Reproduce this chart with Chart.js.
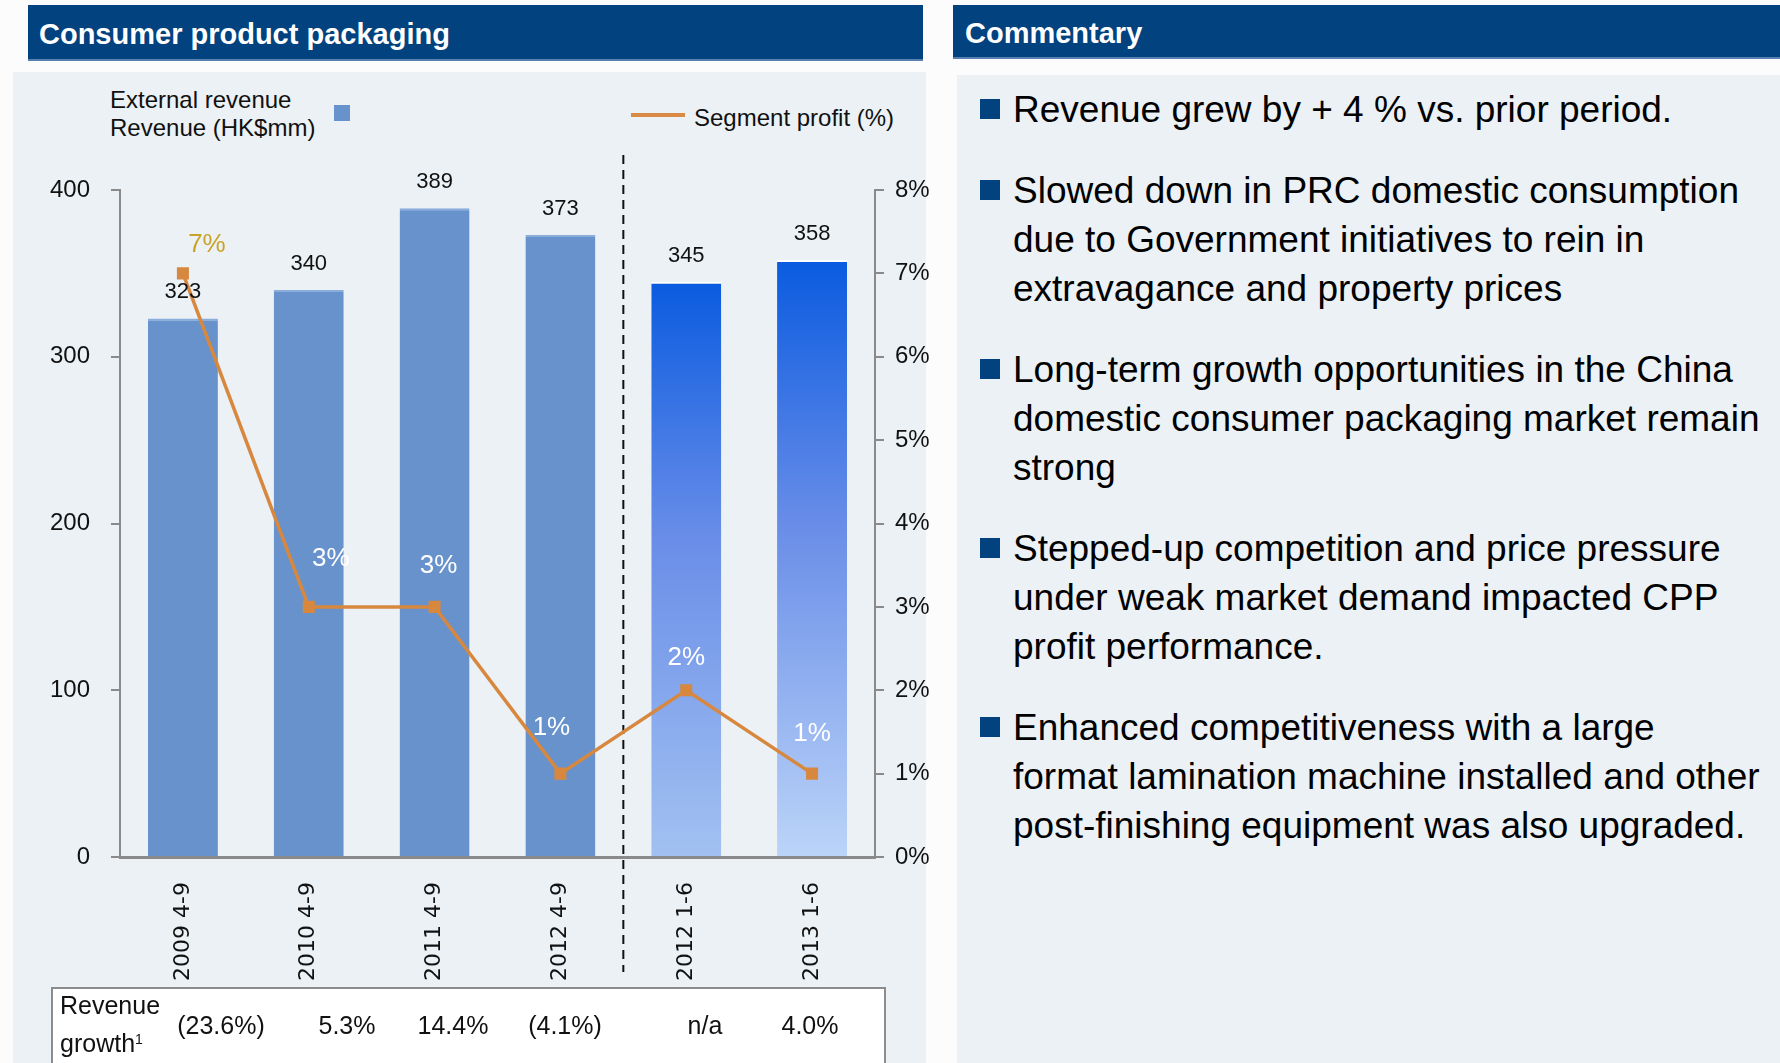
<!DOCTYPE html>
<html><head><meta charset="utf-8">
<script src="https://cdn.jsdelivr.net/npm/chart.js@4.4.0/dist/chart.umd.min.js"></script>
<style>
html,body{margin:0;padding:0;width:1780px;height:1063px;overflow:hidden;background:#fcfcfd;font-family:"Liberation Sans",Arial,sans-serif;}
.abs{position:absolute;}
.hdr{position:absolute;background:#02427f;color:#fff;font-weight:bold;font-size:29px;border-bottom:2px solid #5580b0;box-sizing:border-box;white-space:nowrap;}
.panel{position:absolute;background:#ebf1f5;}
#chartWrap{position:absolute;left:0;top:0;width:940px;height:1063px;}
.leg{position:absolute;font-size:24px;color:#111;white-space:nowrap;line-height:28px;}
.para{position:absolute;left:1013px;font-size:37px;line-height:49px;color:#000;white-space:nowrap;}
.bul{position:absolute;left:-33px;top:14px;width:20px;height:20px;background:#02427f;}
#tbl{position:absolute;left:51px;top:987px;width:835px;height:100px;border:2px solid #8c8c8c;background:#fff;box-sizing:border-box;}
.tcell{position:absolute;font-size:25px;color:#111;white-space:nowrap;transform:translate(-50%,-50%);}
</style></head>
<body>
<div class="panel" style="left:13px;top:72px;width:913px;height:991px;"></div>
<div class="panel" style="left:957px;top:75px;width:823px;height:988px;"></div>
<div class="hdr" style="left:28px;top:5px;width:895px;height:56px;line-height:58px;padding-left:11px;">Consumer product packaging</div>
<div class="hdr" style="left:953px;top:5px;width:827px;height:54px;line-height:56px;padding-left:12px;">Commentary</div>

<div class="leg" style="left:110px;top:86px;">External revenue<br>Revenue (HK$mm)</div>
<div class="abs" style="left:334px;top:105px;width:16px;height:16px;background:#6792cc;"></div>
<div class="abs" style="left:631px;top:113px;width:54px;height:4px;background:#d98b45;"></div>
<div class="leg" style="left:694px;top:104px;">Segment profit (%)</div>

<div id="chartWrap"><canvas id="c" width="940" height="1063"></canvas></div>

<div id="tbl">
  <div class="abs" style="left:7px;top:-3px;font-size:25px;line-height:38px;color:#111;">Revenue<br>growth<sup style="font-size:14px;vertical-align:top;position:relative;top:-4px;">1</sup></div>
</div>

<div id="comm"></div>

<script>
// ---- data ----
const categories = ['2009 4-9', '2010 4-9', '2011 4-9', '2012 4-9', '2012 1-6', '2013 1-6'];
const revenue = [323, 340, 389, 373, 345, 358];
const segmentProfit = [7, 3, 3, 1, 2, 1];
const revenueGrowth = ['(23.6%)', '5.3%', '14.4%', '(4.1%)', 'n/a', '4.0%'];
const commentary = [
  ['Revenue grew by + 4 % vs. prior period.'],
  ['Slowed down in PRC domestic consumption', 'due to Government initiatives to rein in', 'extravagance and property prices'],
  ['Long-term growth opportunities in the China', 'domestic consumer packaging market remain', 'strong'],
  ['Stepped-up competition and price pressure', 'under weak market demand impacted CPP', 'profit performance.'],
  ['Enhanced competitiveness with a large', 'format lamination machine installed and other', 'post-finishing equipment was also upgraded.']
];

// ---- layout / style constants ----
const growthColumnX = [168, 294, 400, 512, 652, 757];
const pctLabelDX = [24, 22, 4, -9, 0, 0];
const pctLabelDY = [-29, -48, -41, -46, -32, -40];
const gradBottom = ['#a2c1f1', '#bbd4f8'];
const axisGray = '#8a8a8a';

// table cells
const tbl = document.getElementById('tbl');
revenueGrowth.forEach((t, i) => {
  const d = document.createElement('div');
  d.className = 'tcell';
  d.style.left = growthColumnX[i] + 'px';
  d.style.top = '36px';
  d.textContent = t;
  tbl.appendChild(d);
});

// commentary
const comm = document.getElementById('comm');
let paraTop = 85;
commentary.forEach(lines => {
  const p = document.createElement('div');
  p.className = 'para';
  p.style.top = paraTop + 'px';
  const b = document.createElement('div'); b.className = 'bul'; p.appendChild(b);
  lines.forEach((l, k) => {
    if (k) p.appendChild(document.createElement('br'));
    p.appendChild(document.createTextNode(l));
  });
  comm.appendChild(p);
  paraTop += lines.length * 49 + 32;
});

function barColor(ctx) {
  const i = ctx.dataIndex;
  if (i < 4) return '#6792cc';
  const chart = ctx.chart;
  const ys = chart.scales && chart.scales.y;
  if (!chart.chartArea || !ys) return '#4d7fe4';
  const yTop = ys.getPixelForValue(ctx.raw);
  const yBot = ys.getPixelForValue(0);
  const g = chart.ctx.createLinearGradient(0, yTop, 0, yBot);
  g.addColorStop(0, '#0a5be0');
  g.addColorStop(0.45, '#6a8ee8');
  g.addColorStop(1, gradBottom[i - 4]);
  return g;
}

const overlay = {
  id: 'overlay',
  beforeDatasetsDraw(chart) {
    const c = chart.ctx, xs = chart.scales.x;
    const xd = (xs.getPixelForValue(3) + xs.getPixelForValue(4)) / 2;
    c.save();
    c.setLineDash([9, 6]);
    c.lineWidth = 2;
    c.strokeStyle = '#111';
    c.beginPath(); c.moveTo(xd, 155); c.lineTo(xd, 972); c.stroke();
    c.restore();
  },
  afterDatasetsDraw(chart) {
    const c = chart.ctx;
    c.save();
    c.textAlign = 'center';
    c.textBaseline = 'middle';
    c.font = '22px "Liberation Sans", Arial, sans-serif';
    c.fillStyle = '#111';
    chart.getDatasetMeta(0).data.forEach((el, i) => {
      c.fillText(String(revenue[i]), el.x, el.y - 26);
    });
    c.font = '26px "Liberation Sans", Arial, sans-serif';
    chart.getDatasetMeta(1).data.forEach((el, i) => {
      c.fillStyle = i === 0 ? '#c9a227' : '#ffffff';
      c.fillText(segmentProfit[i] + '%', el.x + pctLabelDX[i], el.y + pctLabelDY[i]);
    });
    c.restore();
  }
};

Chart.defaults.font.family = '"Liberation Sans", Arial, sans-serif';
new Chart(document.getElementById('c'), {
  type: 'bar',
  data: {
    labels: categories,
    datasets: [
      {
        type: 'bar', label: 'Revenue (HK$mm)', data: revenue, yAxisID: 'y', order: 2,
        backgroundColor: barColor,
        borderColor: ['#8aaddc', '#8aaddc', '#8aaddc', '#8aaddc', '#ffffff', '#ffffff'],
        borderWidth: {top: 2, left: 0, right: 0, bottom: 0},
        borderSkipped: 'bottom',
        barPercentage: 0.556, categoryPercentage: 1.0
      },
      {
        type: 'line', label: 'Segment profit (%)', data: segmentProfit, yAxisID: 'y1', order: 1,
        borderColor: '#d8883e', backgroundColor: '#d8883e', borderWidth: 3.5,
        pointStyle: 'rect', pointRadius: 8.5, pointBorderWidth: 0, pointBackgroundColor: '#d8883e',
        tension: 0, fill: false
      }
    ]
  },
  options: {
    responsive: false, animation: false, devicePixelRatio: 1,
    layout: {padding: {top: 190, left: 0, right: 0, bottom: 0}},
    plugins: {legend: {display: false}, tooltip: {enabled: false}},
    scales: {
      x: {
        offset: true,
        grid: {display: false, drawTicks: false},
        border: {display: true, color: axisGray, width: 3},
        ticks: {minRotation: 90, maxRotation: 90, autoSkip: false, padding: 25, color: '#111',
          font: {family: '"DejaVu Sans"', size: 22}},
        afterFit(s) { s.height = 206; }
      },
      y: {
        position: 'left', min: 0, max: 400,
        ticks: {stepSize: 100, padding: 21, color: '#111', font: {size: 24}},
        grid: {drawOnChartArea: false, drawTicks: true, tickLength: 9, color: axisGray, lineWidth: 2},
        border: {display: true, color: axisGray, width: 2},
        afterFit(s) { s.width = 120; }
      },
      y1: {
        position: 'right', min: 0, max: 8,
        ticks: {stepSize: 1, padding: 11, color: '#111', font: {size: 24}, callback: v => v + '%'},
        grid: {drawOnChartArea: false, drawTicks: true, tickLength: 9, color: axisGray, lineWidth: 2},
        border: {display: true, color: axisGray, width: 2},
        afterFit(s) { s.width = 65; }
      }
    }
  },
  plugins: [overlay]
});
</script>
</body></html>
